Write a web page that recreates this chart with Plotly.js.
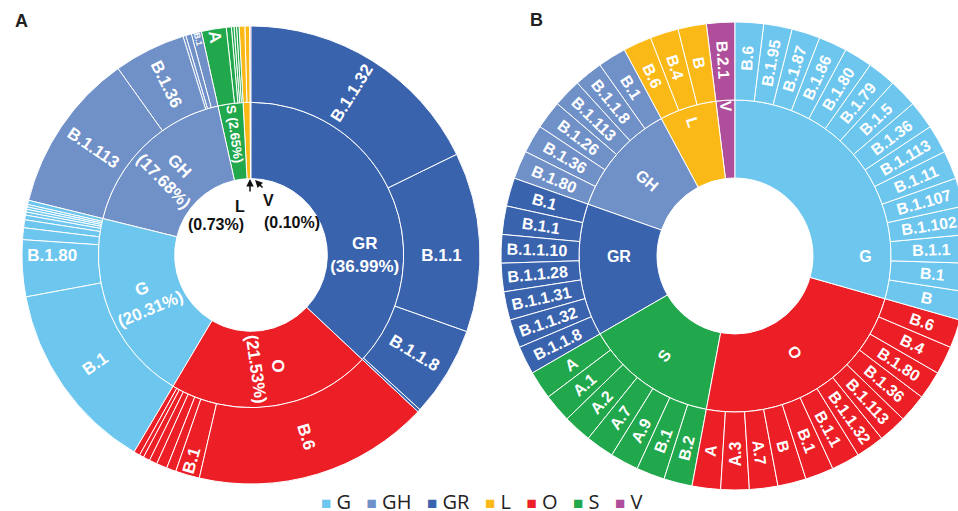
<!DOCTYPE html>
<html>
<head>
<meta charset="utf-8">
<script src="https://cdn.plot.ly/plotly-3.0.1.min.js"></script>
<style>
html, body { margin: 0; padding: 0; overflow: hidden; background: #fff; }
#chart { width: 970px; height: 511px; }
</style>
</head>
<body>
<div id="chart"></div>
<script>
// ---------------- DATA ----------------
// Panel A: clades (inner ring) with share of genomes (%)
const cladesA = ['GR', 'O', 'G', 'GH', 'S', 'L', 'V'];
const cladePctA = [36.99, 21.53, 20.31, 17.68, 2.65, 0.73, 0.10];
// Panel A: lineages (outer ring) per clade, clockwise; '' = unlabeled small lineage
const linA_GR = ['B.1.1.32', 'B.1.1', 'B.1.1.8', ''];
const valA_GR = [17.75, 12.67, 6.37, 0.20];
const linA_O = ['B.6', 'B.1', '', '', '', '', '', ''];
const valA_O = [16.63, 1.70, 0.67, 0.75, 0.56, 0.47, 0.31, 0.44];
const linA_G = ['B.1', 'B.1.80', '', '', '', '', '', '', '', ''];
const valA_G = [13.54, 4.00, 0.83, 0.56, 0.33, 0.22, 0.19, 0.17, 0.17, 0.30];
const linA_GH = ['B.1.113', 'B.1.36', '', '', 'B.1'];
const valA_GH = [11.30, 5.06, 0.20, 0.40, 0.72];
const linA_S = ['A', '', '', '', ''];
const valA_S = [1.75, 0.36, 0.18, 0.18, 0.18];
const linA_L = ['', ''];
const valA_L = [0.40, 0.33];
const linA_V = [''];
const valA_V = [0.10];

// Panel B: clades and their lineages (each lineage counted once), clockwise
const cladesB = ['G', 'O', 'S', 'GR', 'GH', 'L', 'V'];
const linB_G = ['B.6', 'B.1.95', 'B.1.87', 'B.1.86', 'B.1.80', 'B.1.79', 'B.1.5', 'B.1.36', 'B.1.113', 'B.1.11', 'B.1.107', 'B.1.102', 'B.1.1', 'B.1', 'B'];
const linB_O = ['B.6', 'B.4', 'B.1.80', 'B.1.36', 'B.1.113', 'B.1.1.32', 'B.1.1', 'B.1', 'B', 'A.7', 'A.3', 'A'];
const linB_S = ['B.2', 'B.1', 'A.9', 'A.7', 'A.2', 'A.1', 'A'];
const linB_GR = ['B.1.1.8', 'B.1.1.32', 'B.1.1.31', 'B.1.1.28', 'B.1.1.10', 'B.1.1', 'B.1'];
const linB_GH = ['B.1.80', 'B.1.36', 'B.1.26', 'B.1.113', 'B.1.1.8', 'B.1'];
const linB_L = ['B.6', 'B.4', 'B'];
const linB_V = ['B.2.1'];
const lineageWeightB = 1;

// Legend
const legendClades = ['G', 'GH', 'GR', 'L', 'O', 'S', 'V'];
const cladeColors = {
  G: '#6CC6EE', GH: '#7090C8', GR: '#3A63AE', L: '#FBB917',
  O: '#EC1F26', S: '#22A84C', V: '#AF4E9A'
};

// ---------------- BUILD ----------------
// Plotly sunburst lays children counterclockwise; reverse so they read clockwise from 12 o'clock
const REVERSE = true;
const NB = '\u00A0';
const FONT = 'Liberation Sans, Arial, sans-serif';

// pad short radial labels with no-break spaces so every label sits mid-ring
const measureCtx = document.createElement('canvas').getContext('2d');
measureCtx.font = 'bold 16px "Liberation Sans", Arial, sans-serif';
function padLabels(list) {
  const target = Math.max.apply(null, list.map(s => measureCtx.measureText(s).width));
  const sp = measureCtx.measureText(NB).width;
  return list.map(s => {
    const n = Math.max(0, Math.round((target - measureCtx.measureText(s).width) / (2 * sp)));
    return NB.repeat(n) + s + NB.repeat(n);
  });
}

function buildA() {
  const linMap = {GR: [linA_GR, valA_GR], O: [linA_O, valA_O], G: [linA_G, valA_G],
                  GH: [linA_GH, valA_GH], S: [linA_S, valA_S], L: [linA_L, valA_L], V: [linA_V, valA_V]};
  const ids = ['A-root'], labels = [' '], parents = [''], values = [0], text = [''], colors = ['#ffffff'];
  let order = cladesA.map((c, i) => i);
  if (REVERSE) order = order.reverse();
  order.forEach(i => {
    const c = cladesA[i];
    const pct = cladePctA[i].toFixed(2);
    ids.push('A-' + c); labels.push(c); parents.push('A-root'); values.push(0);
    let t = c + '<br>(' + pct + '%)';
    if (c === 'S') t = c + ' (' + pct + '%)';
    if (c === 'L' || c === 'V') t = '';
    text.push(t); colors.push(cladeColors[c]);
    const [ls, vs] = linMap[c];
    let idx = ls.map((l, j) => j);
    if (REVERSE) idx = idx.reverse();
    idx.forEach(j => {
      ids.push('A-' + c + '-' + j); labels.push(ls[j] || ' '); parents.push('A-' + c);
      values.push(vs[j]); text.push(ls[j]); colors.push(cladeColors[c]);
    });
  });
  return {ids, labels, parents, values, text, colors};
}

function buildB() {
  const linMap = {G: linB_G, O: linB_O, S: linB_S, GR: linB_GR, GH: linB_GH, L: linB_L, V: linB_V};
  const allLeaves = [].concat(linB_G, linB_O, linB_S, linB_GR, linB_GH, linB_L, linB_V);
  const padded = padLabels(allLeaves);
  const padMap = {};
  allLeaves.forEach((s, k) => { padMap[s] = padded[k]; });
  const ids = ['B-root'], labels = [' '], parents = [''], values = [0], text = [''], colors = ['#ffffff'];
  let order = cladesB.map((c, i) => i);
  if (REVERSE) order = order.reverse();
  order.forEach(i => {
    const c = cladesB[i];
    ids.push('B-' + c); labels.push(c); parents.push('B-root'); values.push(0);
    text.push(c); colors.push(cladeColors[c]);
    const ls = linMap[c];
    let idx = ls.map((l, j) => j);
    if (REVERSE) idx = idx.reverse();
    idx.forEach(j => {
      ids.push('B-' + c + '-' + j); labels.push(ls[j]); parents.push('B-' + c);
      values.push(lineageWeightB); text.push(padMap[ls[j]]); colors.push(cladeColors[c]);
    });
  });
  return {ids, labels, parents, values, text, colors};
}

const W = 970, H = 511;
const a = buildA(), b = buildB();

const traceA = {
  type: 'sunburst', ids: a.ids, labels: a.labels, parents: a.parents, values: a.values,
  text: a.text, texttemplate: '%{text}', branchvalues: 'remainder', sort: false,
  rotation: 90, insidetextorientation: 'radial',
  marker: {colors: a.colors, line: {color: '#ffffff', width: 1}},
  leaf: {opacity: 1},
  insidetextfont: {family: FONT, size: 17, color: '#ffffff', weight: 'bold'},
  domain: {x: [22 / W, 480 / W], y: [27 / H, 485 / H]},
  hoverinfo: 'label+value'
};
const traceB = {
  type: 'sunburst', ids: b.ids, labels: b.labels, parents: b.parents, values: b.values,
  text: b.text, texttemplate: '%{text}', branchvalues: 'remainder', sort: false,
  rotation: 90, insidetextorientation: 'radial',
  marker: {colors: b.colors, line: {color: '#ffffff', width: 1}},
  leaf: {opacity: 1},
  insidetextfont: {family: FONT, size: 16, color: '#ffffff', weight: 'bold'},
  domain: {x: [501 / W, 969 / W], y: [21 / H, 489 / H]},
  hoverinfo: 'label'
};

// Legend row (colour key) as rich text
const legendText = legendClades.map(c =>
  '<span style="color:' + cladeColors[c] + ';font-size:17px">\u25A0</span>' + NB + c
).join(NB + NB + NB);

function pa(x, y) { return {x: x / W, y: 1 - y / H, xref: 'paper', yref: 'paper'}; }

const layout = {
  width: W, height: H,
  margin: {l: 0, r: 0, t: 0, b: 0},
  paper_bgcolor: '#ffffff',
  showlegend: false,
  annotations: [
    Object.assign(pa(482, 501), {text: legendText, xanchor: 'center', yanchor: 'middle', showarrow: false,
      font: {family: 'Open Sans, sans-serif', size: 20, color: '#222222'}}),
    Object.assign(pa(13, 21), {text: '<b>A</b>', xanchor: 'left', yanchor: 'middle', showarrow: false,
      font: {family: FONT, size: 18, color: '#222'}}),
    Object.assign(pa(528, 20), {text: '<b>B</b>', xanchor: 'left', yanchor: 'middle', showarrow: false,
      font: {family: FONT, size: 18, color: '#222'}}),
    Object.assign(pa(240, 206), {text: '<b>L</b>', xanchor: 'center', yanchor: 'middle', showarrow: false,
      font: {family: FONT, size: 16, color: '#111'}}),
    Object.assign(pa(216, 225), {text: '<b>(0.73%)</b>', xanchor: 'center', yanchor: 'middle', showarrow: false,
      font: {family: FONT, size: 16, color: '#111'}}),
    Object.assign(pa(268, 201), {text: '<b>V</b>', xanchor: 'center', yanchor: 'middle', showarrow: false,
      font: {family: FONT, size: 16, color: '#111'}}),
    Object.assign(pa(292, 222), {text: '<b>(0.10%)</b>', xanchor: 'center', yanchor: 'middle', showarrow: false,
      font: {family: FONT, size: 16, color: '#111'}}),
    Object.assign(pa(250, 179), {text: '', ax: 0, ay: 14, showarrow: true, arrowhead: 2, arrowsize: 1,
      arrowwidth: 1.5, arrowcolor: '#111', standoff: 0}),
    Object.assign(pa(255, 180), {text: '', ax: 9, ay: 9, showarrow: true, arrowhead: 2, arrowsize: 1,
      arrowwidth: 1.5, arrowcolor: '#111', standoff: 0})
  ]
};

Plotly.newPlot('chart', [traceA, traceB], layout, {displayModeBar: false, staticPlot: true});
</script>
</body>
</html>
